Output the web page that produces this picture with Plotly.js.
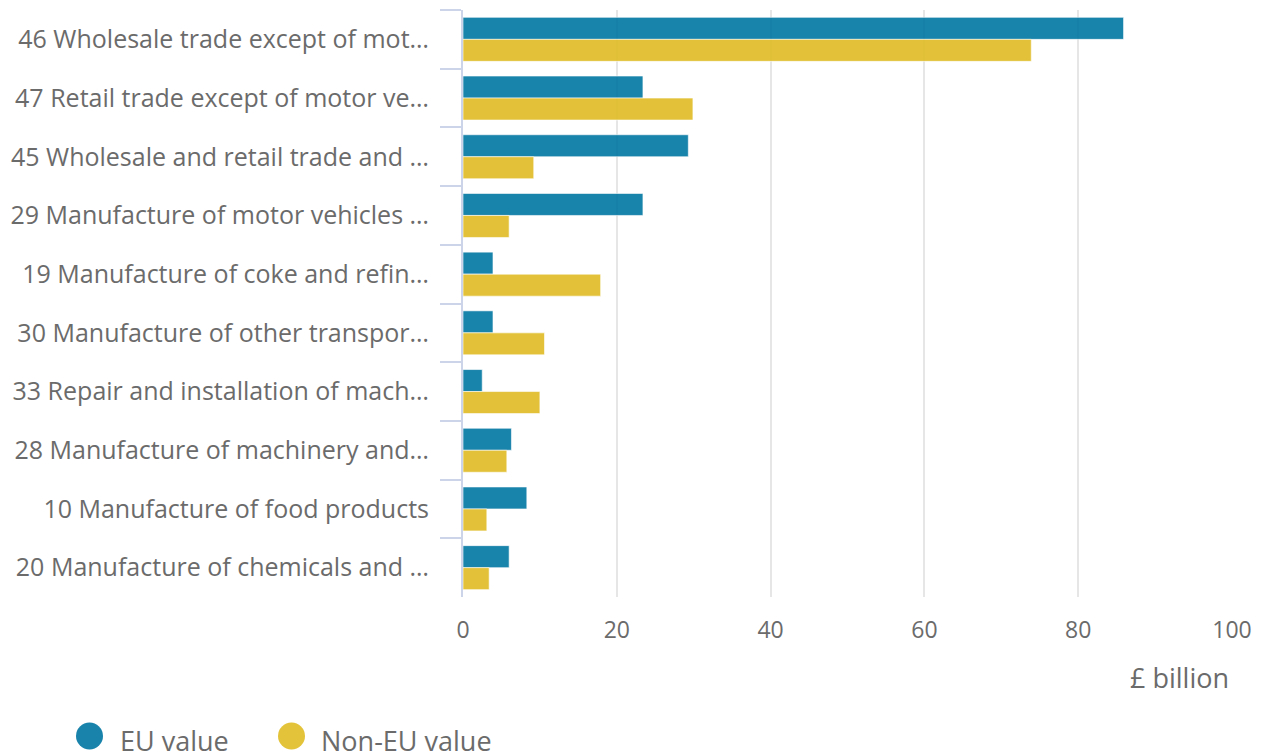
<!DOCTYPE html>
<html>
<head>
<meta charset="utf-8">
<script src="https://cdn.plot.ly/plotly-3.0.1.min.js"></script>
<style>
html,body{margin:0;padding:0;background:#fff;}
#chart{width:1261px;height:753px;}
</style>
</head>
<body>
<div id="chart"></div>
<script>
const categories = [
  "46 Wholesale trade except of mot…",
  "47 Retail trade except of motor ve…",
  "45 Wholesale and retail trade and …",
  "29 Manufacture of motor vehicles …",
  "19 Manufacture of coke and refin…",
  "30 Manufacture of other transpor…",
  "33 Repair and installation of mach…",
  "28 Manufacture of machinery and…",
  "10 Manufacture of food products",
  "20 Manufacture of chemicals and …"
];
const euValues    = [85.9, 23.4, 29.3, 23.4, 3.9, 3.9, 2.5, 6.3, 8.3, 6.0];
const nonEuValues = [73.9, 29.9, 9.2, 6.0, 17.9, 10.6, 10.0, 5.7, 3.1, 3.4];
const seriesNames = ["EU value", "Non-EU value"];
const xTicks = [0, 20, 40, 60, 80, 100];
const unitLabel = "£ billion";

const blue = "rgb(0,118,162)";
const yellow = "rgb(224,188,36)";
const textColor = "#6b6b6b";
const font = "Open Sans, sans-serif";

const traces = [
  {type: "bar", orientation: "h", name: seriesNames[0], y: categories, x: euValues,
   marker: {color: blue, opacity: 0.9, line: {color: "rgba(255,255,255,0.6)", width: 1}},
   hoverinfo: "x+y"},
  {type: "bar", orientation: "h", name: seriesNames[1], y: categories, x: nonEuValues,
   marker: {color: yellow, opacity: 0.9, line: {color: "rgba(255,255,255,0.6)", width: 1}},
   hoverinfo: "x+y"}
];

const L = 463, R = 29, T = 10, B = 156;
const layout = {
  width: 1261, height: 753,
  margin: {l: L, r: R, t: T, b: B},
  paper_bgcolor: "#fff", plot_bgcolor: "#fff",
  font: {family: font, size: 23, color: textColor},
  showlegend: false,
  barmode: "group",
  bargap: 0.25,
  bargroupgap: 0,
  xaxis: {
    range: [0, 100], tickvals: xTicks, ticktext: xTicks.map(String),
    showgrid: true, gridcolor: "#e6e6e6", gridwidth: 2,
    zeroline: false, showline: false, ticks: "",
    ticklabelstandoff: 17,
    tickfont: {family: font, size: 23, color: textColor},
    fixedrange: true
  },
  yaxis: {
    autorange: "reversed", type: "category",
    showline: true, linecolor: "#ccd4ea", linewidth: 2,
    ticks: "outside", tickson: "boundaries", ticklen: 21, tickwidth: 2, tickcolor: "#ccd4ea",
    ticklabelstandoff: 27,
    showgrid: false, zeroline: false,
    tickfont: {family: font, size: 25, color: textColor},
    fixedrange: true
  },
  shapes: [],
  annotations: []
};

const plotW = 1261 - L - R, plotH = 753 - T - B;
function px2paperX(px){ return (px - L) / plotW; }
function px2paperY(py){ return (753 - B - py) / plotH; }

layout.annotations.push({text: unitLabel, xref: "paper", yref: "paper",
  x: px2paperX(1231), y: px2paperY(677), xanchor: "right", yanchor: "middle",
  showarrow: false, font: {family: font, size: 27, color: textColor}});

const legendItems = [
  {cx: 89.5, tx: 118, color: blue, label: seriesNames[0]},
  {cx: 291.5, tx: 319, color: yellow, label: seriesNames[1]}
];
legendItems.forEach(it => {
  const r = 13.5, cy = 736;
  layout.shapes.push({type: "circle", xref: "paper", yref: "paper",
    x0: px2paperX(it.cx - r), x1: px2paperX(it.cx + r),
    y0: px2paperY(cy + r), y1: px2paperY(cy - r),
    fillcolor: it.color, opacity: 0.9, line: {width: 0}});
  layout.annotations.push({text: it.label, xref: "paper", yref: "paper",
    x: px2paperX(it.tx), y: px2paperY(740), xanchor: "left", yanchor: "middle",
    showarrow: false, font: {family: font, size: 27, color: textColor}});
});

Plotly.newPlot("chart", traces, layout, {displayModeBar: false, responsive: false});
</script>
</body>
</html>
